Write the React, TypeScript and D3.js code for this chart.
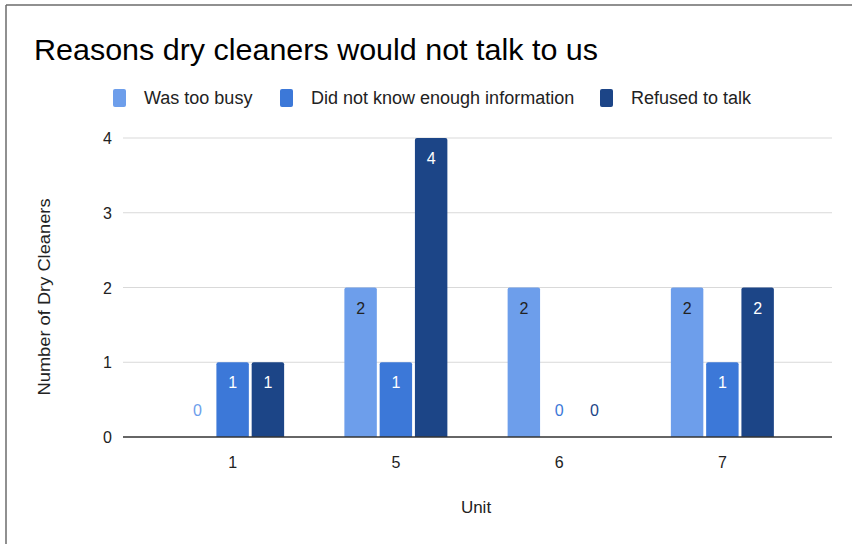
import { scaleBand, scaleLinear } from "d3";

const units = ["1", "5", "6", "7"];
const seriesNames = ["Was too busy", "Did not know enough information", "Refused to talk"];
const tooBusy = [0, 2, 2, 2];
const didNotKnow = [1, 1, 0, 1];
const refused = [1, 4, 0, 2];
const yTicks = [0, 1, 2, 3, 4];

const colors = ["#6d9eeb", "#3c78d8", "#1c4587"];
const labelColors = ["#222222", "#ffffff", "#ffffff"];
const legendX = [113, 280, 600];

const values = [tooBusy, didNotKnow, refused];

const W = 852;
const H = 544;
const font = "'Liberation Sans', Arial, sans-serif";

// bar with rounded top corners
const barPath = (x: number, y: number, w: number, h: number, r = 2) => {
  if (h <= 0) return "";
  const rr = Math.min(r, h, w / 2);
  return `M${x},${y + h}V${y + rr}Q${x},${y} ${x + rr},${y}H${x + w - rr}Q${x + w},${y} ${x + w},${y + rr}V${y + h}Z`;
};

export default function App() {
  const plotLeft = 123;
  const plotRight = 832;

  const y = scaleLinear().domain([0, 4]).range([437, 138]);
  const x0 = scaleBand().domain(units).range([151, 804]);
  const bw0 = x0.bandwidth();
  const groupW = 103;
  const x1 = scaleBand<number>()
    .domain([0, 1, 2])
    .range([(bw0 - groupW) / 2, (bw0 + groupW) / 2])
    .paddingInner(0.08);

  return (
    <svg
      width={W}
      height={H}
      style={{ position: "absolute", left: 0, top: 0, background: "#fff" }}
      fontFamily={font}
    >
      <rect x={0} y={0} width={W} height={H} fill="#fff" />
      {/* frame */}
      <line x1={6} y1={5} x2={W} y2={5} stroke="#6b6b6b" strokeWidth={1.5} />
      <line x1={6} y1={5} x2={6} y2={H} stroke="#6b6b6b" strokeWidth={1.5} />

      <text x={34} y={60} fontSize={29} fill="#000" textLength={564} lengthAdjust="spacingAndGlyphs">
        Reasons dry cleaners would not talk to us
      </text>

      {/* legend */}
      {seriesNames.map((name, i) => (
        <g key={name}>
          <rect x={legendX[i]} y={89} width={13} height={18} rx={2} fill={colors[i]} />
          <text x={legendX[i] + 31} y={104} fontSize={18} fill="#222">
            {name}
          </text>
        </g>
      ))}

      {/* grid */}
      {yTicks.map((t) => (
        <g key={t}>
          {t !== 0 && (
            <line x1={plotLeft} x2={plotRight} y1={y(t)} y2={y(t)} stroke="#d9d9d9" strokeWidth={1.2} />
          )}
          <text x={112} y={y(t) + 6} fontSize={16} textAnchor="end" fill="#222">
            {t}
          </text>
        </g>
      ))}

      {/* bars */}
      {units.map((u, ui) => (
        <g key={u} transform={`translate(${x0(u)},0)`}>
          {values.map((vals, si) => {
            const v = vals[ui];
            const bx = x1(si) as number;
            const bw = x1.bandwidth();
            const top = y(v);
            return (
              <g key={si}>
                <path d={barPath(bx, top, bw, y(0) - top)} fill={colors[si]} />
                {v === 0 ? (
                  <text x={bx + bw / 2} y={y(0) - 21} fontSize={16} textAnchor="middle" fill={colors[si]}>
                    {v}
                  </text>
                ) : (
                  <text x={bx + bw / 2} y={top + 26} fontSize={16} textAnchor="middle" fill={labelColors[si]}>
                    {v}
                  </text>
                )}
              </g>
            );
          })}
          <text x={bw0 / 2} y={468} fontSize={16} textAnchor="middle" fill="#222">
            {u}
          </text>
        </g>
      ))}

      {/* baseline */}
      <line x1={plotLeft} x2={plotRight} y1={y(0)} y2={y(0)} stroke="#333" strokeWidth={1.5} />

      {/* axis titles */}
      <text
        transform={`translate(50,${297}) rotate(-90)`}
        fontSize={16}
        textAnchor="middle"
        fill="#222"
        textLength={197}
        lengthAdjust="spacingAndGlyphs"
      >
        Number of Dry Cleaners
      </text>
      <text x={476} y={513} fontSize={17} textAnchor="middle" fill="#222">
        Unit
      </text>
    </svg>
  );
}
